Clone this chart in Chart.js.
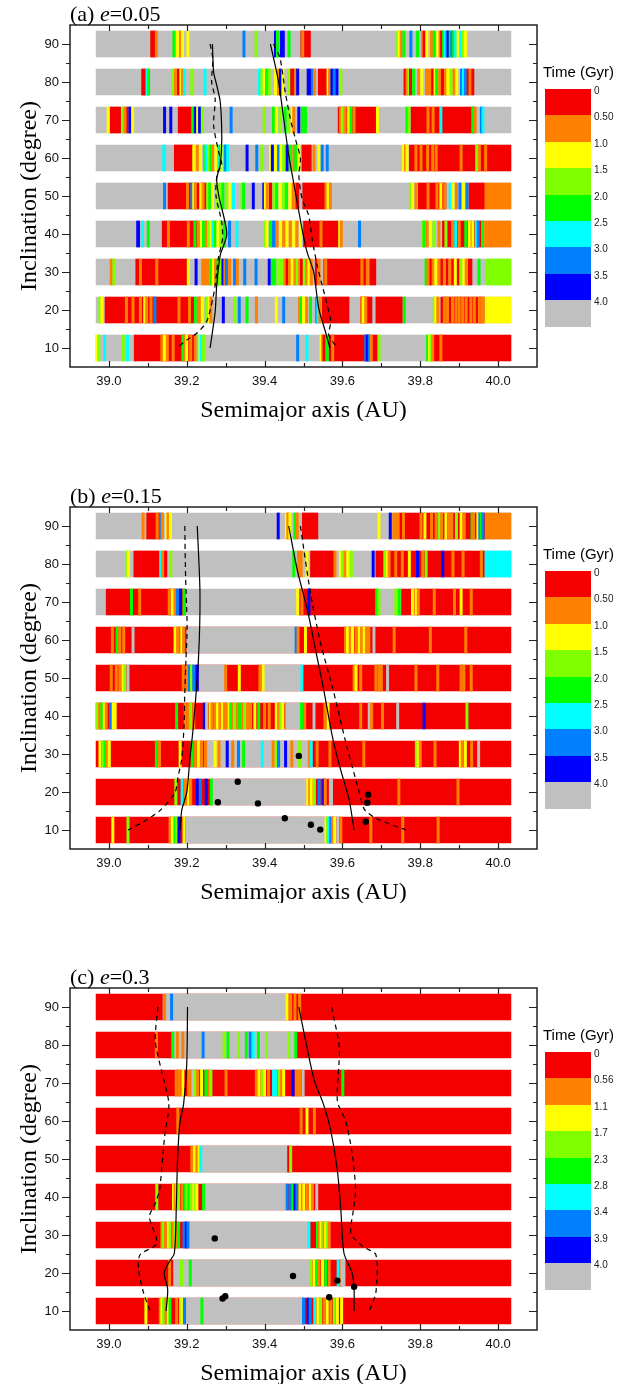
<!DOCTYPE html>
<html>
<head>
<meta charset="utf-8">
<script src="https://cdn.jsdelivr.net/npm/chart.js@4.4.1/dist/chart.umd.min.js"></script>
<style>
  body { margin: 0; background: #fff; }
  #page { position: relative; width: 629px; height: 1384px; overflow: hidden; }
  .panel { position: absolute; left: 0; width: 629px; height: 421px; }
  .panel canvas { position: absolute; left: 0; top: 0; }
  .ptitle { position: absolute; left: 70px; top: 1px; font: 22px "Liberation Serif", "Times New Roman", serif; line-height: 25px; color: #000; white-space: nowrap; }
  .ltitle { position: absolute; left: 543px; top: 63px; font: 15px "Liberation Sans", Arial, sans-serif; line-height: 18px; color: #000; white-space: nowrap; }
  .lblock { position: absolute; left: 545px; width: 46px; }
  .llabel { position: absolute; left: 594px; font: 10px "Liberation Sans", Arial, sans-serif; line-height: 12px; color: #222; }
</style>
</head>
<body>
<div id="page"></div>
<script>
// inclination of each band, top to bottom
const inclinations = [90, 80, 70, 60, 50, 40, 30, 20, 10];
const aStart = 38.967, aEnd = 40.033;   // semimajor axis range covered by the bands
const stripeWidth = 0.006;              // width of a single thin stripe (AU)

// time classes: R=0-0.5 O Y L G C A B S=survived (gray)
const classCodes = 'ROYLGCABS';
const timeColors = ['#f40000', '#ff8000', '#ffff00', '#80ff00', '#00ff00', '#00ffff', '#0080ff', '#0000ff', '#c0c0c0'];

const xMajorTicks = [39.0, 39.2, 39.4, 39.6, 39.8, 40.0];
const xMinorTicks = [39.1, 39.3, 39.5, 39.7, 39.9];
const yMajorTicks = [10, 20, 30, 40, 50, 60, 70, 80, 90];
const yMinorTicks = [15, 25, 35, 45, 55, 65, 75, 85];

const panelLabels = ['(a)', '(b)', '(c)'];
const eccentricities = ['0.05', '0.15', '0.3'];
const legendTicksAB = ['0', '0.50', '1.0', '1.5', '2.0', '2.5', '3.0', '3.5', '4.0'];
const legendTicksC = ['0', '0.56', '1.1', '1.7', '2.3', '2.8', '3.4', '3.9', '4.0'];

// band strings: first token = background class, "Xa-b" = block, "Xa" = thin stripe
const bandsA = [
  'S R39.107-39.119 O39.122 G39.167 Y39.172-39.180 O39.184 Y39.189 Y39.203 A39.347 L39.378 B39.428 G39.433 B39.440-39.451 G39.463 R39.493-39.518 O39.498 L39.742 Y39.746 O39.751 G39.758 A39.776 G39.793 O39.806 R39.810 Y39.817 O39.826-39.833 G39.836 Y39.845 O39.851 R39.855 G39.860 C39.864 A39.869 B39.872 G39.877 A39.881 G39.886 C39.891 Y39.897 C39.904 L39.910 Y39.916',
  'S R39.084-39.096 C39.098 G39.102 L39.166 O39.171 R39.175-39.183 Y39.185 O39.189 C39.194 L39.213 C39.247 C39.387 L39.393 Y39.399 G39.405 L39.412 Y39.428 O39.436 B39.441 Y39.447 L39.462 R39.466-39.476 O39.480 B39.485 B39.509-39.519 A39.523 O39.528 R39.538-39.560 Y39.563 O39.567 B39.573 A39.579 B39.586 L39.596 R39.758-39.763 O39.766 L39.771 R39.775 G39.783 O39.796 Y39.804 O39.813-39.829 R39.832 Y39.838 G39.842 O39.850 R39.857 O39.865 Y39.871 L39.880 O39.887 Y39.894 A39.906 C39.911 A39.916 R39.923 O39.928 R39.935',
  'S Y38.998 R39.003-39.030 L39.037 O39.041 R39.045-39.050 B39.054 Y39.061 B39.143 B39.159 R39.178-39.212 G39.216 B39.222 Y39.228 B39.233 L39.240 A39.314 L39.399 G39.423 Y39.430 L39.440 G39.453 L39.462 Y39.471 O39.475 B39.488 G39.497 G39.505 R39.589-39.688 O39.595 L39.600 O39.607 Y39.616 G39.622 O39.630 Y39.690 G39.766 L39.771 R39.776-39.939 O39.820 O39.833 C39.853 G39.935 O39.941 A39.957 C39.961',
  'S C39.138-39.146 R39.168-39.217 Y39.218 O39.228 Y39.235 G39.246 C39.250 L39.256 G39.262 O39.267 Y39.275 C39.282 G39.286 Y39.290 C39.296 A39.300 C39.305 B39.355 A39.380 L39.393 Y39.415 B39.420 Y39.428 A39.436 Y39.442 L39.449 B39.458 G39.466 O39.475 G39.480 Y39.488 R39.496-39.520 O39.527 Y39.540 A39.548 A39.561 Y39.757 O39.762 Y39.766 R39.772-40.033 O39.789 O39.802 O39.819 O39.832 O39.841 O39.905 L39.945 O39.952 O39.968',
  'S A39.143 R39.152-39.250 O39.202 A39.213 Y39.218 O39.222 Y39.236 O39.242 L39.254 G39.259 Y39.266 L39.278 L39.286 G39.293 L39.302 Y39.311 C39.320 L39.342 G39.346 B39.371 B39.398 Y39.402 O39.407 R39.412-39.419 L39.424 G39.431 Y39.440 L39.449 G39.456 Y39.465 O39.474 R39.480-39.488 R39.498-39.556 O39.558 Y39.563 O39.569 L39.776 Y39.780 O39.789 R39.795-39.866 O39.820 O39.843 Y39.853 O39.863 C39.877 Y39.884 O39.893 A39.902 Y39.911 A39.920 R39.925-39.966 O39.966-40.033',
  'S B39.071-39.079 C39.086 G39.101 R39.137-39.228 O39.153 O39.204 G39.221 O39.230 Y39.238 G39.243 O39.250 L39.256 Y39.263 C39.267 G39.273 Y39.280 L39.288 G39.297 A39.310 C39.329 L39.402 Y39.406 G39.415 A39.419-39.428 O39.432 Y39.441 O39.449 Y39.458 O39.466 Y39.475 O39.483 Y39.492 R39.500-39.590 O39.545 Y39.593 O39.597 A39.644 L39.806 G39.810 O39.818 Y39.826 L39.835 O39.848 R39.857-39.962 L39.866 O39.883 C39.891 O39.900 G39.917 Y39.926 Y39.935 C39.944 A39.949 G39.960 O39.965-40.033',
  'S O39.006 L39.013 R39.069-39.201 O39.081 O39.123 Y39.204 B39.224 O39.238-39.257 G39.262 Y39.268 O39.274 G39.280 L39.285 B39.293 O39.298 A39.302 O39.310 A39.323 O39.330 A39.349 A39.378 B39.412 G39.420 G39.426 L39.432-39.449 O39.452 R39.458 O39.464 Y39.471 O39.478 L39.484 O39.490 R39.495 L39.502 O39.508 Y39.514 O39.520 R39.530-39.535 O39.540 R39.552-39.647 O39.557 O39.650 R39.654-39.660 O39.664 R39.670-39.686 G39.815 O39.820 R39.823-39.830 O39.833 Y39.840 O39.848 R39.852-39.858 O39.862 R39.866-39.872 O39.876 R39.880-39.887 Y39.890 R39.894-39.900 L39.905 Y39.912 O39.918 R39.923-39.933 G39.951 L39.968-40.033',
  'S L38.977 Y38.982 R38.990-39.120 O39.045 O39.062 O39.081 Y39.092 O39.097 O39.108 A39.118 R39.122-39.218 O39.180 O39.207 G39.222 O39.230 O39.235 Y39.240 L39.250 Y39.258 O39.262 B39.294 L39.324 A39.335 G39.355 O39.379 Y39.430 A39.449 O39.490 G39.495 Y39.500 O39.508 G39.518 A39.534 C39.537 O39.542 R39.548-39.617 R39.647-39.676 O39.650 Y39.654 O39.660 R39.686-39.754 G39.759 L39.836 Y39.840 O39.845 R39.853-39.965 O39.862 O39.870 O39.883 O39.892 O39.900 O39.909 O39.918 O39.930 O39.939 O39.952 O39.960 Y39.966-40.033',
  'S Y38.969 L38.974 C38.989 L39.037 C39.045-39.051 R39.065-39.218 O39.136 Y39.143 O39.150 O39.165 G39.190 O39.195 Y39.200 O39.210 O39.222 C39.230 Y39.234 C39.238 L39.243 A39.485 C39.509 Y39.545 O39.549 R39.553 G39.561 R39.565-39.690 O39.575 A39.660 B39.664 A39.669 O39.674 L39.694 G39.819 Y39.824 L39.828 O39.832 R39.836-40.033 O39.853'
];

const bandsB = [
  'S O39.088 R39.097-39.122 O39.124 R39.126-39.130 A39.133 O39.137 Y39.148 O39.152 Y39.158 B39.435 Y39.456 O39.460 Y39.465 G39.478 O39.484 R39.497-39.537 Y39.694 B39.723 O39.729-39.748 R39.748-39.967 O39.757 O39.802 Y39.812 O39.829 O39.841 L39.849 O39.855 Y39.866 O39.875 O39.881 L39.893 Y39.905 O39.913 G39.933 O39.937 Y39.948 A39.953 G39.957 A39.961 O39.967-40.033',
  'S L39.046 Y39.050 R39.064-39.129 C39.134 O39.138 R39.141-39.149 L39.159 G39.475 O39.484-39.497 Y39.509 R39.518-39.578 O39.581 Y39.595 L39.600 O39.607 Y39.614 L39.623 B39.679 R39.686-39.966 L39.709 Y39.716 O39.720 O39.737 O39.754 Y39.772 B39.793 O39.806 L39.815 B39.858 O39.884 O39.910 O39.957 C39.966-40.033',
  'S R38.993-39.196 G39.058 O39.079 O39.155 Y39.163 O39.170 A39.176 B39.184 G39.193 Y39.485 R39.490-39.686 O39.496 B39.514 G39.688 L39.694 L39.737 G39.746 R39.752-40.033 Y39.780 Y39.789 O39.795 O39.836 O39.888 Y39.905 O39.931',
  'R O39.009 G39.021 O39.028 O39.038 S39.062 Y39.170 O39.178 Y39.187 O39.192 S39.200-39.479 A39.481 O39.486 Y39.505 O39.608 Y39.613 O39.620 Y39.626 O39.635 Y39.643 O39.650 Y39.656 O39.662 O39.668 S39.681 O39.733 O39.826 O39.917',
  'R O39.006 O39.019 O39.028 Y39.036 L39.041 S39.049 O39.191 O39.200 A39.207 L39.212 A39.218 B39.227 S39.231-39.297 O39.300 Y39.335 O39.388 Y39.396 S39.399-39.494 C39.496 O39.630 Y39.635 O39.647 O39.686 O39.694 O39.700 S39.716 O39.789 O39.845 O39.905 O39.912 O39.931',
  'R L38.970 O38.976 G38.982 Y38.988 O38.993 A39.004 Y39.011 Y39.016 G39.174 O39.196 O39.203 L39.210 O39.218 B39.245 S39.251 Y39.260 O39.265 O39.273 Y39.279 O39.285 Y39.292 O39.297 O39.303 Y39.309 G39.313 O39.318 L39.323 O39.330 G39.336 O39.343 L39.349 O39.356 O39.364 Y39.375 G39.385 O39.400 O39.412 Y39.430 O39.436 L39.442 Y39.447 S39.454-39.493 G39.495 O39.503 S39.527 O39.555 Y39.563 O39.647 S39.669 O39.675 O39.703 S39.742 B39.810 L39.920',
  'R Y38.977 L38.985 G38.990 O38.995 Y39.001 G39.122 O39.130 Y39.183 G39.214 O39.222 Y39.230 O39.238 O39.248 S39.253-39.511 Y39.273 O39.283 B39.304 O39.318 A39.333 G39.346 C39.394 O39.422 L39.430 A39.436 B39.454 O39.470 L39.490 O39.515 C39.520 O39.535 O39.568 O39.655 L39.790 Y39.795 O39.800 O39.838 Y39.903 O39.908 Y39.916 O39.932 S39.950',
  'R L39.172 C39.188 O39.196 Y39.204 O39.210 B39.227 A39.235 B39.250 G39.263 S39.266-39.508 Y39.511 O39.516 Y39.520 L39.528 A39.540 B39.552 O39.556 S39.566-39.575 O39.745 O39.897',
  'R Y39.010 L39.049 O39.157 Y39.163 G39.170 L39.174 B39.180 Y39.193 S39.198-39.557 Y39.558 L39.562 C39.566 A39.570 O39.575 Y39.580 S39.588 O39.596 O39.673 O39.755 O39.846'
];

const bandsC = [
  'R S39.139-39.455 O39.143 A39.161 Y39.458 R39.462-39.474 O39.467 O39.478 O39.490',
  'R O39.122 S39.166-39.478 G39.164 O39.176 O39.190 A39.242 L39.296 G39.306 L39.333 G39.353 A39.363 C39.371 G39.384 L39.405 L39.462 G39.480',
  'R O39.173 O39.181 Y39.190 O39.202-39.213 S39.216 L39.222 O39.228 Y39.238 G39.249 O39.256 L39.262 O39.301 O39.379 Y39.386 L39.394 Y39.400 O39.410 C39.420-39.432 L39.437 O39.443 Y39.449 B39.473 O39.478-39.494 S39.499 G39.601',
  'R O39.177 O39.494 Y39.509 O39.528',
  'R O39.213 Y39.220 O39.226 Y39.232 C39.236 S39.239-39.460 R39.462 L39.467',
  'R L39.123 Y39.166 O39.170 Y39.175 L39.179 O39.188 G39.196 L39.201 G39.205 L39.211 Y39.218 L39.222 Y39.226 G39.243 S39.248-39.457 A39.458 A39.467 G39.473 B39.478 A39.483 Y39.491 O39.497 Y39.501 O39.510 Y39.518 O39.523 S39.534',
  'R O39.136 L39.140 O39.145 Y39.153 L39.157 O39.166 L39.170 O39.174 G39.179 A39.193 B39.199 A39.203 S39.205-39.512 C39.514 G39.536 O39.540 Y39.545 L39.549 O39.553 Y39.557 L39.561 O39.566',
  'R O39.156 S39.166-39.517 L39.183-39.190 G39.209 L39.519 Y39.527 G39.536 O39.540 Y39.549 G39.557 O39.566 C39.589 O39.595 S39.599 S39.604',
  'R Y39.095 O39.132 Y39.136 L39.140 O39.147 Y39.153 G39.157 O39.174 L39.184 Y39.188 A39.194 S39.199-39.500 G39.239 A39.500 B39.512 A39.517 C39.529 Y39.537 L39.544 O39.553 Y39.561 O39.570 L39.579 Y39.587 Y39.598'
];

// resonance borders [a (AU), inclination (deg)]
const solidLeftA = [[39.266, 90], [39.269, 82.6], [39.275, 80], [39.286, 74.8], [39.290, 65.1], [39.286, 58.1], [39.277, 54.6], [39.282, 50.2], [39.303, 40.1], [39.286, 34.4], [39.277, 26.5], [39.273, 19.5], [39.260, 10]];
const dashLeftA = [[39.260, 90], [39.267, 86.1], [39.264, 80], [39.273, 75.6], [39.269, 68.6], [39.282, 61.6], [39.290, 58.1], [39.279, 56.3], [39.275, 50.2], [39.290, 43.1], [39.292, 38.8], [39.281, 33.5], [39.273, 26.5], [39.267, 23], [39.251, 16.9], [39.225, 13.8], [39.200, 12.1], [39.174, 10]];
const solidRightA = [[39.415, 90], [39.436, 80], [39.449, 70.4], [39.462, 60.8], [39.479, 51.1], [39.496, 41.5], [39.509, 35.3], [39.526, 30.1], [39.539, 20.5], [39.556, 14.4], [39.568, 10]];
const dashRightA = [[39.423, 90], [39.440, 86.1], [39.453, 77.4], [39.466, 70.4], [39.479, 65.1], [39.492, 59.9], [39.488, 55.5], [39.496, 49.4], [39.513, 45], [39.522, 38.8], [39.535, 31.8], [39.548, 26.5], [39.561, 21.3], [39.570, 16.9], [39.565, 13.4], [39.587, 10]];

const solidLeftB = [[39.227, 90], [39.234, 72.3], [39.230, 54.8], [39.217, 37.3], [39.208, 28.6], [39.200, 19.9], [39.187, 15.1], [39.183, 10]];
const dashLeftB = [[39.195, 90], [39.197, 76.6], [39.201, 63.5], [39.198, 54.8], [39.195, 46.1], [39.193, 37.3], [39.187, 28.6], [39.178, 24.2], [39.170, 19.9], [39.131, 15.1], [39.088, 12.1], [39.049, 10]];
const solidRightB = [[39.462, 90], [39.484, 78.4], [39.510, 67.9], [39.531, 57.4], [39.552, 46.9], [39.574, 34.7], [39.595, 26], [39.617, 18.1], [39.630, 10]];
const dashRightB = [[39.492, 90], [39.518, 72.3], [39.544, 59.2], [39.578, 46.1], [39.613, 31.2], [39.639, 21.6], [39.656, 15.5], [39.690, 12.9], [39.763, 10]];

const solidLeftC = [[39.202, 90], [39.200, 75], [39.192, 64.5], [39.182, 59.3], [39.176, 48.8], [39.173, 36.6], [39.168, 25.2], [39.153, 22.6], [39.142, 20], [39.151, 15.7], [39.147, 10]];
const dashLeftC = [[39.126, 90], [39.119, 81], [39.135, 73.3], [39.154, 64.5], [39.143, 55.8], [39.130, 41.8], [39.119, 38.3], [39.104, 34.8], [39.123, 27.8], [39.080, 24.8], [39.076, 20.9], [39.089, 14.8], [39.106, 10]];
const solidRightC = [[39.488, 90], [39.509, 79.3], [39.528, 70.6], [39.551, 64.5], [39.570, 57.5], [39.587, 47], [39.596, 36.5], [39.604, 25.2], [39.625, 20], [39.630, 15.7], [39.630, 10]];
const dashRightC = [[39.572, 90], [39.592, 79.3], [39.587, 65.3], [39.608, 60], [39.624, 52.2], [39.634, 42], [39.628, 36.5], [39.622, 30.4], [39.652, 27], [39.686, 24.8], [39.686, 14.8], [39.669, 10]];

// observed objects [a, inclination]
const dotsA = [];
const dotsB = [[39.280, 17.3], [39.331, 22.7], [39.383, 17.0], [39.452, 13.1], [39.488, 29.5], [39.519, 11.4], [39.543, 10.1], [39.660, 12.2], [39.664, 17.2], [39.666, 19.3]];
const dotsC = [[39.272, 29.1], [39.292, 13.3], [39.299, 13.9], [39.473, 19.2], [39.566, 13.6], [39.587, 18.0], [39.630, 16.4]];

Chart.defaults.font.family = '"Liberation Sans", Arial, sans-serif';

// split band strings into background bars, blocks and thin stripes
function parseBands(bands) {
  const base = [], blocks = [], stripes = [];
  bands.forEach((str, i) => {
    const inc = inclinations[i];
    const toks = str.trim().split(/\s+/);
    base.push({x: [aStart, aEnd], y: inc, c: toks[0]});
    toks.slice(1).forEach(t => {
      const c = t[0];
      const v = t.slice(1).split('-').map(Number);
      if (v.length === 2) blocks.push({x: v, y: inc, c: c});
      else stripes.push({x: [v[0] - stripeWidth / 2, v[0] + stripeWidth / 2], y: inc, c: c});
    });
  });
  return {base, blocks, stripes};
}

// frame with inward ticks on top/bottom/right, outward on the left
const framePlugin = {
  id: 'frame',
  afterDraw(chart) {
    const {ctx, chartArea: ca} = chart;
    const sx = chart.scales.x, sy = chart.scales.y;
    ctx.save();
    ctx.strokeStyle = '#222';
    ctx.lineWidth = 1.5;
    ctx.strokeRect(ca.left, ca.top, ca.right - ca.left, ca.bottom - ca.top);
    ctx.lineWidth = 1.2;
    ctx.beginPath();
    const xt = (v, len) => {
      const px = Math.round(sx.getPixelForValue(v)) + 0.5;
      ctx.moveTo(px, ca.bottom); ctx.lineTo(px, ca.bottom - len);
      ctx.moveTo(px, ca.top); ctx.lineTo(px, ca.top + len);
    };
    const yt = (v, len) => {
      const py = Math.round(sy.getPixelForValue(v)) + 0.5;
      ctx.moveTo(ca.left, py); ctx.lineTo(ca.left - len, py);
      ctx.moveTo(ca.right, py); ctx.lineTo(ca.right - len, py);
    };
    xMajorTicks.forEach(v => xt(v, 6));
    xMinorTicks.forEach(v => xt(v, 4));
    yMajorTicks.forEach(v => yt(v, 8));
    yMinorTicks.forEach(v => yt(v, 4));
    ctx.stroke();
    ctx.restore();
  }
};

function barSet(data, order) {
  return {
    type: 'bar',
    data: data,
    order: order,
    indexAxis: 'y',
    grouped: false,
    barThickness: 26,
    borderWidth: 0,
    backgroundColor: c => c.raw ? timeColors[classCodes.indexOf(c.raw.c)] : '#000'
  };
}

function lineSet(pts, dashed) {
  return {
    type: 'line',
    data: pts.map(p => ({x: p[0], y: p[1]})),
    order: 1,
    indexAxis: 'x',
    borderColor: '#000',
    borderWidth: 1.2,
    borderDash: dashed ? [5, 4] : [],
    pointRadius: 0,
    tension: 0.25,
    fill: false
  };
}

function makePanel(idx, top, bands, lines, dots, legendTicks) {
  const page = document.getElementById('page');
  const panel = document.createElement('div');
  panel.className = 'panel';
  panel.style.top = top + 'px';
  page.appendChild(panel);

  const canvas = document.createElement('canvas');
  canvas.width = 629;
  canvas.height = 421;
  panel.appendChild(canvas);

  const title = document.createElement('div');
  title.className = 'ptitle';
  title.innerHTML = panelLabels[idx] + ' <i>e</i>=' + eccentricities[idx];
  panel.appendChild(title);

  // colour key
  const lt = document.createElement('div');
  lt.className = 'ltitle';
  lt.textContent = 'Time (Gyr)';
  panel.appendChild(lt);
  const blockH = 26.4, keyTop = 89;
  timeColors.forEach((col, i) => {
    const b = document.createElement('div');
    b.className = 'lblock';
    b.style.top = (keyTop + i * blockH) + 'px';
    b.style.height = (blockH + 0.5) + 'px';
    b.style.background = col;
    panel.appendChild(b);
    const l = document.createElement('div');
    l.className = 'llabel';
    l.style.top = (keyTop + i * blockH - 4) + 'px';
    l.textContent = legendTicks[i];
    panel.appendChild(l);
  });

  const layers = parseBands(bands);
  const datasets = [
    barSet(layers.base, 6),
    barSet(layers.blocks, 5),
    barSet(layers.stripes, 4),
    lineSet(lines[0], false),
    lineSet(lines[1], true),
    lineSet(lines[2], false),
    lineSet(lines[3], true),
    {
      type: 'line',
      data: dots.map(p => ({x: p[0], y: p[1]})),
      order: 0,
      indexAxis: 'x',
      showLine: false,
      pointRadius: 3.2,
      pointBorderWidth: 0,
      pointBackgroundColor: '#000'
    }
  ];

  new Chart(canvas, {
    type: 'bar',
    data: {datasets},
    options: {
      indexAxis: 'y',
      responsive: false,
      animation: false,
      layout: {padding: {left: 0, right: 92, top: 25, bottom: 0}},
      plugins: {legend: {display: false}, tooltip: {enabled: false}},
      scales: {
        x: {
          type: 'linear', min: 38.9, max: 40.1, offset: false,
          afterBuildTicks: s => { s.ticks = xMajorTicks.map(v => ({value: v})); },
          afterFit: s => { s.height = 54; },
          grid: {display: false, drawTicks: true, tickLength: 7},
          border: {display: false},
          ticks: {padding: 0, color: '#111', font: {size: 13}, maxRotation: 0, autoSkip: false,
                  callback: v => Number(v).toFixed(1)},
          title: {display: true, text: 'Semimajor axis (AU)', color: '#000',
                  font: {family: '"Liberation Serif", "Times New Roman", serif', size: 24, lineHeight: 1},
                  padding: {top: 0, bottom: -2}}
        },
        y: {
          type: 'linear', min: 5, max: 95, offset: false,
          afterBuildTicks: s => { s.ticks = yMajorTicks.map(v => ({value: v})); },
          afterFit: s => { s.width = 70; },
          grid: {display: false, drawTicks: true, tickLength: 8},
          border: {display: false},
          ticks: {padding: 3, color: '#111', font: {size: 13}},
          title: {display: true, text: 'Inclination (degree)', color: '#000',
                  font: {family: '"Liberation Serif", "Times New Roman", serif', size: 24, lineHeight: 1},
                  padding: {top: 18, bottom: 0}}
        }
      }
    },
    plugins: [framePlugin]
  });
}

makePanel(0, 0, bandsA, [solidLeftA, dashLeftA, solidRightA, dashRightA], dotsA, legendTicksAB);
makePanel(1, 482, bandsB, [solidLeftB, dashLeftB, solidRightB, dashRightB], dotsB, legendTicksAB);
makePanel(2, 963, bandsC, [solidLeftC, dashLeftC, solidRightC, dashRightC], dotsC, legendTicksC);
</script>
</body>
</html>
